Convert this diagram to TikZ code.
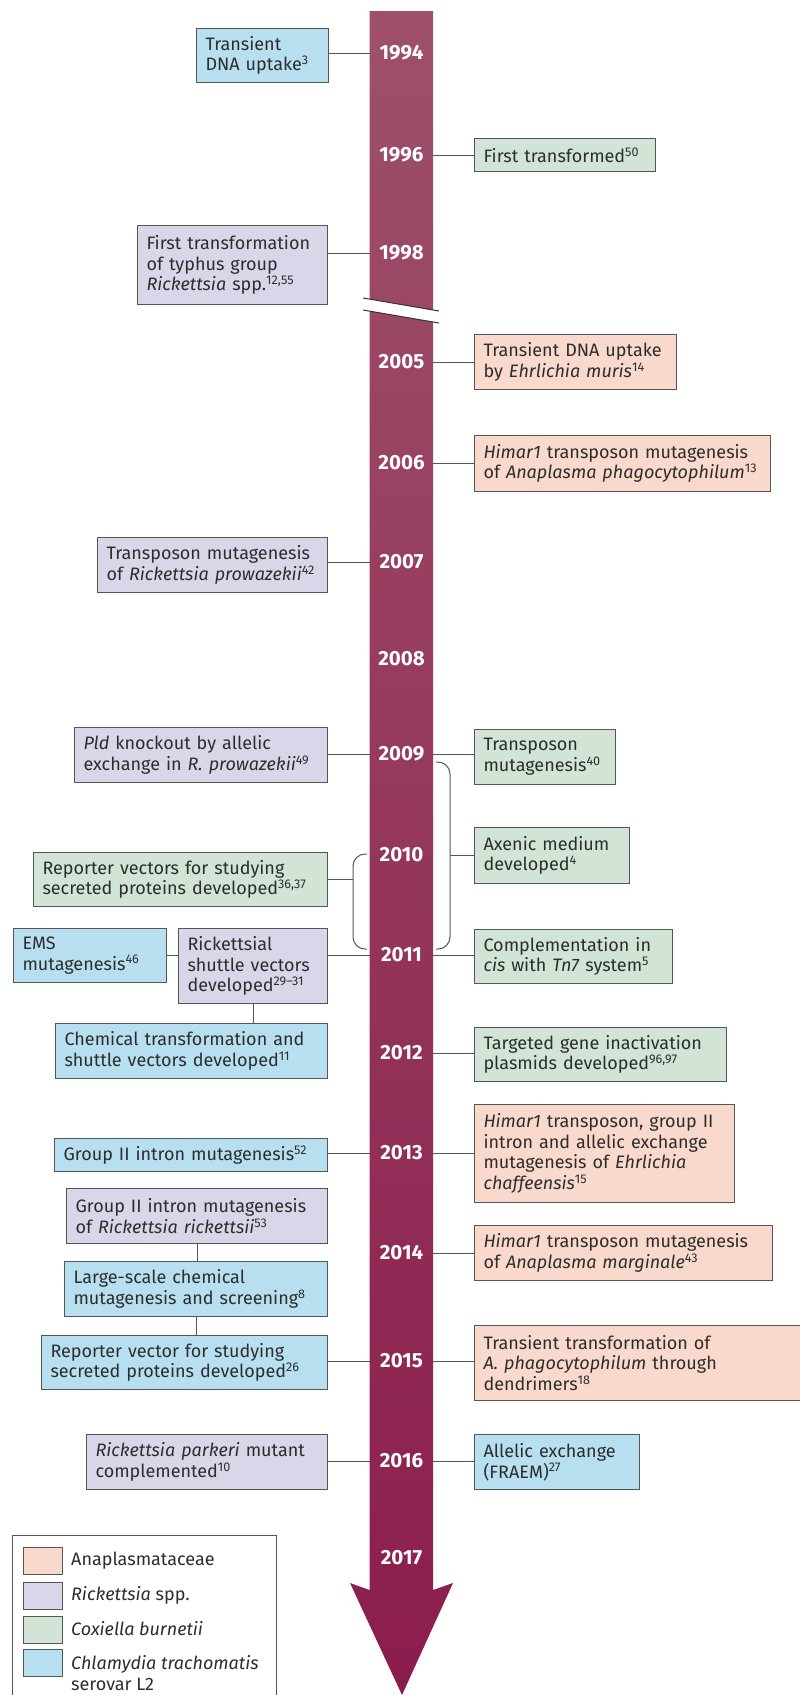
\documentclass[tikz,border=0pt]{standalone}
\usepackage{fontspec}
\setmainfont{Fira Sans}
\usepackage{xcolor}
\usepackage{tikz}
\usetikzlibrary{positioning}
\definecolor{anaorange}{RGB}{249,217,203}
\definecolor{rickpurple}{RGB}{218,213,232}
\definecolor{coxgreen}{RGB}{209,228,214}
\definecolor{chlblue}{RGB}{184,223,240}
\definecolor{shafttop}{RGB}{158,80,106}
\definecolor{shaftbot}{RGB}{139,29,77}
\definecolor{edgegray}{RGB}{85,85,85}
\definecolor{inkgray}{RGB}{45,45,45}
\newcommand{\evfont}{\fontsize{18}{20.7}\selectfont\hyphenpenalty=10000}
\newcommand{\yrfont}{\fontsize{20.5}{21}\selectfont\bfseries}

\begin{document}
\begin{tikzpicture}[x=1pt, y=-1pt,
    event/.style={rectangle, draw=edgegray, line width=1pt, text=inkgray, font=\evfont, align=left, inner xsep=9pt, inner ysep=2pt},
    lbox/.style={event, anchor=north east},
    rbox/.style={event, anchor=north west},
    year/.style={text=white, font=\yrfont, minimum width=63pt, inner sep=0pt},
    conn/.style={draw=edgegray, line width=1pt},
    swatch/.style={rectangle, draw=edgegray, line width=1pt, minimum width=39pt, minimum height=27pt, anchor=north west, inner sep=0pt},
    legtext/.style={text=inkgray, font=\evfont, anchor=west, align=left, inner sep=0pt},
]
\useasboundingbox (0,0) rectangle (800,1695);

% === Time arrow (with break) ===
\path[top color=shafttop, bottom color=shaftbot]
    (369.5,11) -- (433,11) -- (433,310) -- (369.5,299.1) -- cycle
    (369.5,311.1) -- (433,322) -- (433,1590) -- (453,1583) -- (402,1695) -- (350,1583) -- (369.5,1590) -- cycle;
\draw[edgegray!60!black, line width=1pt] (363,298) -- (439,311);
\draw[edgegray!60!black, line width=1pt] (363,310) -- (439,323);

% === Years ===
\foreach \yr/\yy in {1994/53, 1996/155, 1998/253, 2005/362, 2006/463, 2007/562, 2008/659, 2009/754,
    2010/855, 2011/955, 2012/1053, 2013/1153, 2014/1253, 2015/1361, 2016/1461, 2017/1558}
    \node[year] (y\yr) at (401.5,\yy) {\yr};

% === Left side events ===
\node[lbox, fill=chlblue, text width=114pt, minimum height=54pt] (l94) at (329,28) {Transient\\DNA uptake\textsuperscript{3}};
\node[lbox, fill=rickpurple, text width=172pt, minimum height=79pt] (l98) at (328,225) {First transformation\\of typhus group\\\textit{Rickettsia} spp.\textsuperscript{12,55}};
\node[lbox, fill=rickpurple, text width=212pt, minimum height=55pt] (l07) at (328,537) {Transposon mutagenesis\\of \textit{Rickettsia prowazekii}\textsuperscript{42}};
\node[lbox, fill=rickpurple, text width=235pt, minimum height=55pt] (l09) at (328,727) {\textit{Pld} knockout by allelic\\exchange in \textit{R.~prowazekii}\textsuperscript{49}};
\node[lbox, fill=coxgreen, text width=276pt, minimum height=54pt] (l10) at (328,852) {Reporter vectors for studying\\secreted proteins developed\textsuperscript{36,37}};
\node[lbox, fill=chlblue, text width=135pt, minimum height=54pt] (lems) at (167,928) {EMS\\mutagenesis\textsuperscript{46}};
\node[lbox, fill=rickpurple, text width=131pt, minimum height=75pt] (l11) at (328,928) {Rickettsial\\shuttle vectors\\developed\textsuperscript{29--31}};
\node[lbox, fill=chlblue, text width=254pt, minimum height=55pt] (lchem) at (328,1023) {Chemical transformation and\\shuttle vectors developed\textsuperscript{11}};
\node[lbox, fill=chlblue, text width=255pt, minimum height=33pt] (l13) at (328,1138) {Group II intron mutagenesis\textsuperscript{52}};
\node[lbox, fill=rickpurple, text width=243pt, minimum height=55pt] (lgrp) at (328,1188) {Group II intron mutagenesis\\of \textit{Rickettsia rickettsii}\textsuperscript{53}};
\node[lbox, fill=chlblue, text width=245pt, minimum height=55pt] (lscr) at (328,1261) {Large-scale chemical\\mutagenesis and screening\textsuperscript{8}};
\node[lbox, fill=chlblue, text width=268pt, minimum height=54pt] (l15) at (328,1335) {Reporter vector for studying\\secreted proteins developed\textsuperscript{26}};
\node[lbox, fill=rickpurple, text width=223pt, minimum height=55pt] (l16) at (328,1434) {\textit{Rickettsia parkeri} mutant\\complemented\textsuperscript{10}};

% === Right side events ===
\node[rbox, fill=coxgreen, text width=163pt, minimum height=33pt] (r96) at (474,138) {First transformed\textsuperscript{50}};
\node[rbox, fill=anaorange, text width=184pt, minimum height=55pt] (r05) at (474,334) {Transient DNA uptake\\by \textit{Ehrlichia muris}\textsuperscript{14}};
\node[rbox, fill=anaorange, text width=278pt, minimum height=56pt] (r06) at (474,435) {\textit{Himar1} transposon mutagenesis\\of \textit{Anaplasma phagocytophilum}\textsuperscript{13}};
\node[rbox, fill=coxgreen, text width=123pt, minimum height=55pt] (r09) at (474,729) {Transposon\\mutagenesis\textsuperscript{40}};
\node[rbox, fill=coxgreen, text width=137pt, minimum height=56pt] (r10) at (474,827) {Axenic medium\\developed\textsuperscript{4}};
\node[rbox, fill=coxgreen, text width=180pt, minimum height=54pt] (r11) at (474,929) {Complementation in\\\textit{cis} with \textit{Tn7} system\textsuperscript{5}};
\node[rbox, fill=coxgreen, text width=234pt, minimum height=54pt] (r12) at (474,1027) {Targeted gene inactivation\\plasmids developed\textsuperscript{96,97}};
\node[rbox, fill=anaorange, text width=242pt, minimum height=98pt] (r13) at (474,1104) {\textit{Himar1} transposon, group II\\intron and allelic exchange\\mutagenesis of \textit{Ehrlichia}\\\textit{chaffeensis}\textsuperscript{15}};
\node[rbox, fill=anaorange, text width=280pt, minimum height=55pt] (r14) at (474,1225) {\textit{Himar1} transposon mutagenesis\\of \textit{Anaplasma marginale}\textsuperscript{43}};
\node[rbox, fill=anaorange, text width=312pt, minimum height=75pt] (r15) at (474,1325) {Transient transformation of\\\textit{A.~phagocytophilum} through\\dendrimers\textsuperscript{18}};
\node[rbox, fill=chlblue, text width=147pt, minimum height=55pt] (r16) at (474,1434) {Allelic exchange\\(FRAEM)\textsuperscript{27}};

% === Connectors: left ===
\draw[conn] (l94.east |- y1994) -- (y1994.west);
\draw[conn] (l98.east |- y1998) -- (y1998.west);
\draw[conn] (l07.east |- y2007) -- (y2007.west);
\draw[conn] (l09.east |- y2009) -- (y2009.west);
\draw[conn] (l11.east |- y2011) -- (y2011.west);
\draw[conn] (lems.east) -- (lems.east -| l11.west);
\draw[conn] (l11.south) -- (l11.south |- lchem.north);
\draw[conn] (l13.east |- y2013) -- (y2013.west);
\draw[conn] (lgrp.south) -- (lgrp.south |- lscr.north);
\draw[conn] (lscr.south) -- (lscr.south |- l15.north);
\draw[conn] (l15.east |- y2015) -- (y2015.west);
\draw[conn] (l16.east |- y2016) -- (y2016.west);

% === Connectors: right ===
\draw[conn] (y1996.east) -- (y1996 -| r96.west);
\draw[conn] (y2005.east) -- (y2005 -| r05.west);
\draw[conn] (y2006.east) -- (y2006 -| r06.west);
\draw[conn] (y2009.east) -- (y2009 -| r09.west);
\draw[conn] (y2011.east) -- (y2011 -| r11.west);
\draw[conn] (y2012.east) -- (y2012 -| r12.west);
\draw[conn] (y2013.east) -- (y2013 -| r13.west);
\draw[conn] (y2014.east) -- (y2014 -| r14.west);
\draw[conn] (y2015.east) -- (y2015 -| r15.west);
\draw[conn] (y2016.east) -- (y2016 -| r16.west);

% === Brackets ===
\coordinate (rbt) at (436,762);
\coordinate (rbb) at (436,949);
\coordinate (rbmid) at (450,855);
\draw[conn, rounded corners=12pt] (rbt) -| (rbmid) |- (rbb);
\draw[conn] (rbmid) -- (rbmid -| r10.west);
\coordinate (lbt) at (367,854);
\coordinate (lbb) at (367,949);
\coordinate (lbmid) at (353,880);
\draw[conn, rounded corners=12pt] (lbt) -| (lbmid) |- (lbb);
\draw[conn] (l10.east) -- (l10.east -| lbmid);

% === Legend ===
\node[draw=edgegray, line width=1pt, fill=white, anchor=north west, minimum width=264pt, minimum height=175pt, inner sep=0pt] (legend) at (12,1535) {};
\node[swatch, fill=anaorange] (sw1) at (23,1547) {};
\node[swatch, fill=rickpurple] (sw2) at (23,1582) {};
\node[swatch, fill=coxgreen] (sw3) at (23,1616) {};
\node[swatch, fill=chlblue] (sw4) at (23,1649) {};
\node[legtext] (lg1) at (71,1561) {Anaplasmataceae};
\node[legtext] (lg2) at (71,1595) {\textit{Rickettsia} spp.};
\node[legtext] (lg3) at (71,1629) {\textit{Coxiella burnetii}};
\node[legtext] (lg4) at (71,1673) {\textit{Chlamydia trachomatis}\\serovar L2};

\end{tikzpicture}
\end{document}
